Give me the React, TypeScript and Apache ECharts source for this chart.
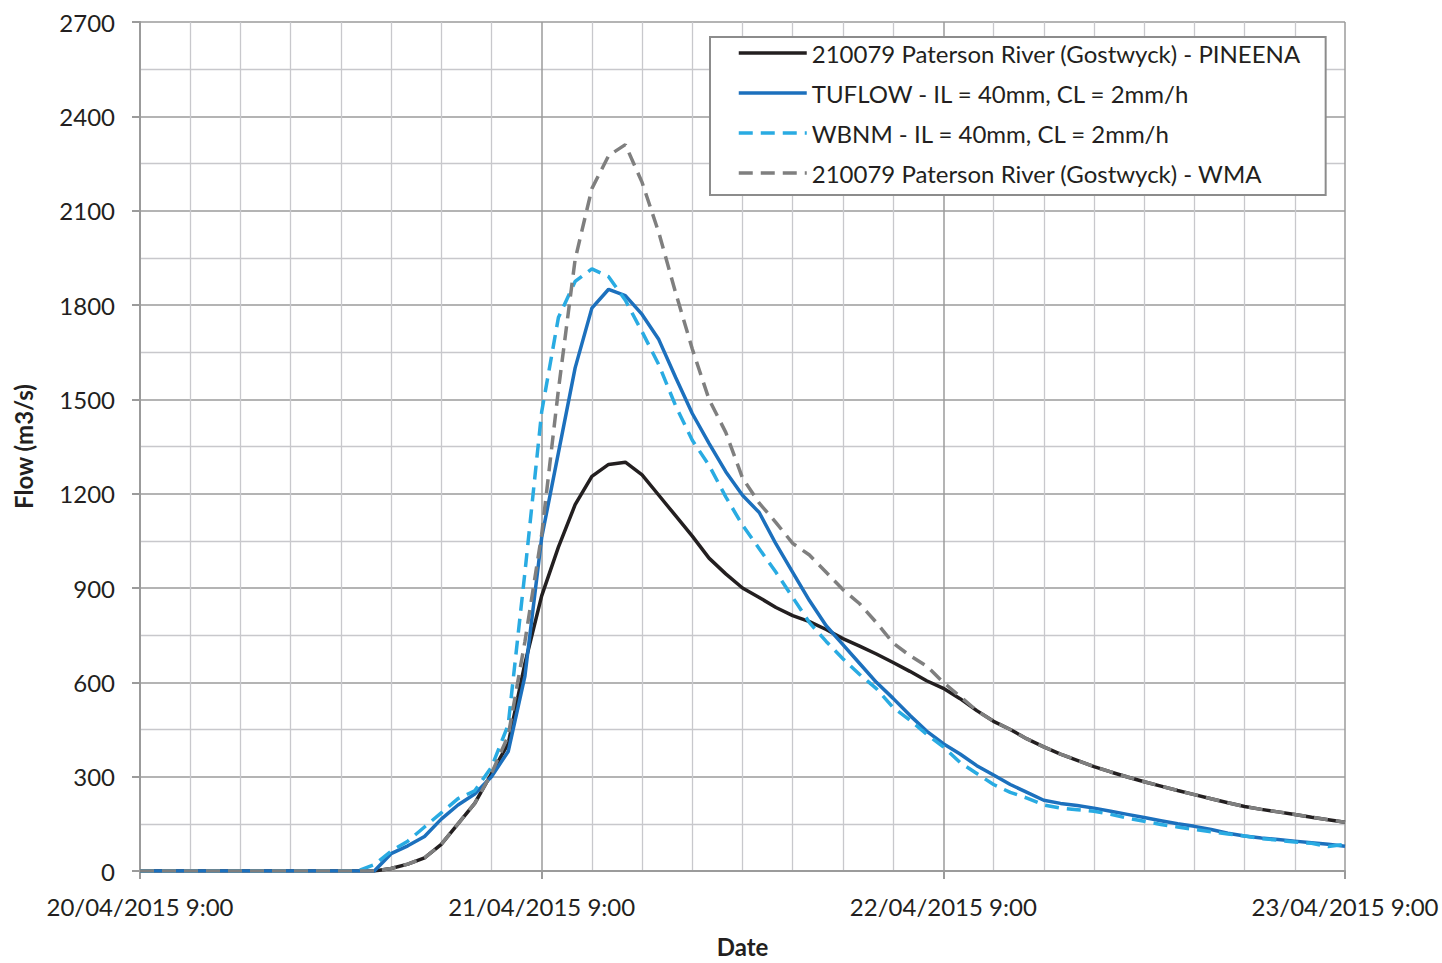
import React, { useEffect, useRef } from "react";
import * as echarts from "echarts";

// x tick labels (hours from 20/04/2015 9:00, step 24 h)
const xTickLabels = ["20/04/2015 9:00", "21/04/2015 9:00", "22/04/2015 9:00", "23/04/2015 9:00"];

// hourly values, hour 0 .. 72
const pineena = [
  0, 0, 0, 0, 0, 0, 0, 0, 0, 0, 0, 0, 0, 0, 0, 8, 22, 42, 85, 150, 215, 310, 405, 660,
  875, 1030, 1165, 1255, 1293, 1300, 1260, 1195, 1130, 1065, 995, 945, 900, 870, 838, 812,
  793, 768, 739, 715, 690, 663, 635, 605, 581, 548, 510, 476, 450, 420, 395, 372, 352, 332,
  315, 299, 284, 270, 256, 243, 230, 217, 205, 196, 188, 180, 171, 163, 155,
];
const tuflow = [
  0, 0, 0, 0, 0, 0, 0, 0, 0, 0, 0, 0, 0, 0, 0, 55, 80, 110, 165, 210, 245, 300, 380, 620,
  1060, 1330, 1600, 1790, 1850, 1830, 1770, 1690, 1570, 1455, 1360, 1270, 1195, 1140, 1040, 950,
  860, 780, 720, 660, 600, 549, 495, 445, 405, 372, 335, 305, 275, 250, 225, 215, 208, 200,
  190, 180, 170, 160, 150, 142, 132, 120, 111, 105, 100, 95, 90, 85, 79,
];
const wbnm = [
  0, 0, 0, 0, 0, 0, 0, 0, 0, 0, 0, 0, 0, 0, 20, 63, 95, 140, 185, 230, 255, 330, 465, 950,
  1460, 1760, 1875, 1915, 1890, 1815, 1715, 1610, 1480, 1370, 1290, 1190, 1100, 1025, 950, 870,
  790, 730, 675, 625, 580, 520, 480, 435, 395, 345, 310, 275, 250, 232, 210, 200, 195, 190,
  180, 168, 158, 148, 140, 132, 125, 118, 111, 103, 98, 92, 88, 78, 85,
];
const wma = [
  0, 0, 0, 0, 0, 0, 0, 0, 0, 0, 0, 0, 0, 0, 0, 8, 22, 42, 85, 150, 215, 310, 430, 730,
  1070, 1530, 1945, 2170, 2275, 2310, 2190, 2030, 1840, 1660, 1500, 1395, 1250, 1170, 1108, 1042,
  1005, 950, 895, 850, 790, 725, 685, 652, 600, 555, 510, 476, 450, 420, 395, 372, 352, 332,
  315, 299, 284, 270, 256, 243, 230, 217, 205, 196, 188, 180, 171, 163, 155,
];

const seriesNames = [
  "210079 Paterson River (Gostwyck) - PINEENA",
  "TUFLOW - IL = 40mm, CL = 2mm/h",
  "WBNM - IL = 40mm, CL = 2mm/h",
  "210079 Paterson River (Gostwyck) - WMA",
];

const FONT = "Lato";
const TEXT = "#231f20";

export default function App() {
  const ref = useRef<HTMLDivElement>(null);
  useEffect(() => {
    document.body.style.margin = "0";
    const chart = echarts.init(ref.current!, null, { renderer: "svg" });
    const toPts = (arr: number[]) => arr.map((v, i) => [i, v]);
    const mk = (name: string, data: number[], color: string, type: any) => ({
      name,
      type: "line",
      data: toPts(data),
      showSymbol: false,
      symbol: "none",
      lineStyle: { color, width: 3.5, type },
      itemStyle: { color },
    });
    chart.setOption({
      animation: false,
      textStyle: { fontFamily: FONT },
      grid: { left: 140, right: 97, top: 22, bottom: 86 },
      legend: {
        orient: "vertical",
        left: 710,
        top: 37,
        padding: [3, 25, 9, 27],
        itemWidth: 68,
        itemHeight: 14,
        itemGap: 14,
        borderColor: "#8c8c8c",
        borderWidth: 2,
        backgroundColor: "#ffffff",
        itemStyle: { color: "transparent", borderWidth: 0, opacity: 0 },
        lineStyle: { width: 3.5 },
        textStyle: { fontSize: 24, color: TEXT, fontFamily: FONT, lineHeight: 26 },
        data: seriesNames,
      },
      xAxis: {
        type: "value",
        min: 0,
        max: 72,
        interval: 24,
        name: "Date",
        nameLocation: "middle",
        nameGap: 63,
        nameTextStyle: { fontSize: 24, fontWeight: "bold", color: TEXT, fontFamily: FONT },
        axisLine: { show: true, lineStyle: { color: "#9b9b9b", width: 2 } },
        axisTick: { show: true, length: 8, lineStyle: { color: "#9b9b9b", width: 2 } },
        axisLabel: {
          fontSize: 24,
          color: TEXT,
          margin: 23,
          fontFamily: FONT,
          formatter: (v: number) => xTickLabels[Math.round(v / 24)] ?? "",
        },
        splitLine: { show: true, lineStyle: { color: "#9b9b9b", width: 1.5 } },
        minorTick: { show: false, splitNumber: 8 },
        minorSplitLine: { show: true, lineStyle: { color: "#c8c8cc", width: 1.3 } },
      },
      yAxis: {
        type: "value",
        min: 0,
        max: 2700,
        interval: 300,
        name: "Flow (m3/s)",
        nameLocation: "middle",
        nameGap: 105,
        nameTextStyle: { fontSize: 24, fontWeight: "bold", color: TEXT, fontFamily: FONT },
        axisLine: { show: true, lineStyle: { color: "#9b9b9b", width: 2 } },
        axisTick: { show: true, length: 8, lineStyle: { color: "#9b9b9b", width: 2 } },
        axisLabel: {
          fontSize: 24,
          color: TEXT,
          margin: 25,
          fontFamily: FONT,
          formatter: (v: number) => String(v),
        },
        splitLine: { show: true, lineStyle: { color: "#9b9b9b", width: 1.5 } },
        minorTick: { show: false, splitNumber: 2 },
        minorSplitLine: { show: true, lineStyle: { color: "#c8c8cc", width: 1.3 } },
      },
      series: [
        mk(seriesNames[0], pineena, "#231f20", "solid"),
        mk(seriesNames[1], tuflow, "#1c70bd", "solid"),
        mk(seriesNames[2], wbnm, "#29abe2", [14, 8]),
        mk(seriesNames[3], wma, "#7f7f7f", [14, 8]),
      ],
    });
    return () => chart.dispose();
  }, []);
  return <div ref={ref} style={{ width: 1442, height: 963 }} />;
}
